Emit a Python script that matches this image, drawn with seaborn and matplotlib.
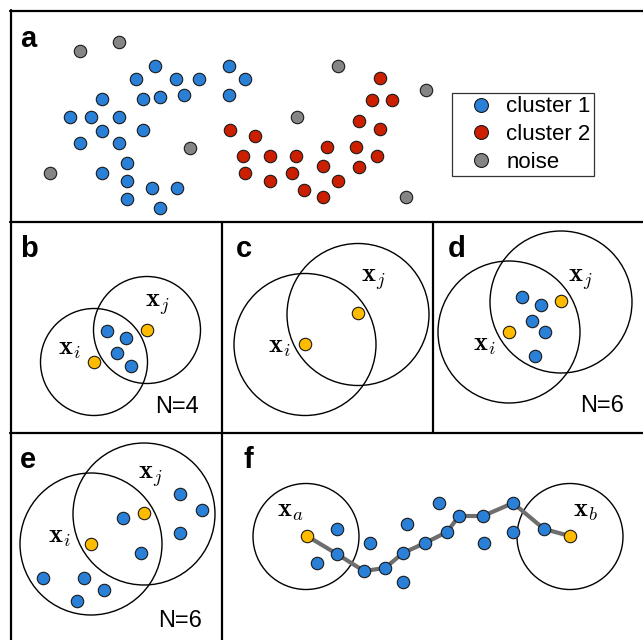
import numpy as np
import matplotlib
matplotlib.use("Agg")
import matplotlib.pyplot as plt
import seaborn as sns
import pandas as pd
from matplotlib.patches import Circle
from matplotlib.lines import Line2D

sns.set_style("white")
plt.rcParams['font.family'] = ['Liberation Sans', 'DejaVu Sans']
plt.rcParams['mathtext.fontset'] = 'cm'
plt.rcParams['text.color'] = 'black'

BLUE = '#2a7fd6'
RED = '#cc1f00'
GRAY = '#858585'
YELLOW = '#ffbb00'
EDGE = '#1a1a1a'

# panel a: points (image pixel coordinates)
a_blue_x = [155, 136, 176, 199, 229, 245, 229, 102, 143, 160, 184, 70, 91, 119, 102, 143, 80, 119, 127, 102, 127, 152, 177, 127, 160]
a_blue_y = [66, 79, 79, 79, 66, 79, 95, 99, 99, 97, 95, 117, 117, 117, 131, 130, 143, 143, 163, 173, 181, 188, 188, 199, 208]
a_red_x = [230, 255, 243, 270, 296, 245, 270, 292, 304, 380, 372, 392, 359, 380, 327, 356, 377, 323, 359, 338, 323]
a_red_y = [130, 136, 156, 156, 156, 173, 181, 173, 190, 78, 100, 100, 121, 129, 147, 147, 156, 166, 167, 181, 197]
a_noise_x = [80, 119, 50, 190, 297, 338, 426, 406]
a_noise_y = [51, 42, 173, 148, 117, 66, 90, 197]
legend_labels = ['cluster 1', 'cluster 2', 'noise']

# panel b
b_circ_x = [94, 147]
b_circ_y = [362, 330]
b_circ_r = [53.5, 53.5]
b_blue_x = [107, 126, 117, 131]
b_blue_y = [331, 338, 353, 366]
b_n = 'N=4'

# panel c
c_circ_x = [305, 358]
c_circ_y = [344.5, 314.5]
c_circ_r = [71, 71]
c_core_x = [305, 357.5]
c_core_y = [344, 312.5]

# panel d
d_circ_x = [509, 561]
d_circ_y = [332, 302]
d_circ_r = [71, 71]
d_core_x = [509, 561]
d_core_y = [332, 300.5]
d_blue_x = [522, 541, 532, 545, 535]
d_blue_y = [297, 305, 321, 332, 356]
d_n = 'N=6'

# panel e
e_circ_x = [91, 144]
e_circ_y = [544, 514]
e_circ_r = [71, 71]
e_core_x = [91, 144]
e_core_y = [544, 513]
e_blue_x = [123, 180, 202, 180, 141, 43, 84, 104, 77]
e_blue_y = [518, 494, 510, 533, 553, 578, 578, 590, 601]
e_n = 'N=6'

# panel f
f_circ_x = [306, 570]
f_circ_y = [536.5, 536.5]
f_circ_r = [53, 53]
f_core_x = [307, 570]
f_core_y = [536, 536]
f_blue_x = [317, 337, 337, 370, 364, 385, 403, 407, 403, 425, 447, 439, 459, 483, 484, 513, 513, 544]
f_blue_y = [563, 529, 554, 543, 571, 568, 582, 524, 553, 543, 532, 503, 516, 516, 543, 503, 532, 529]
path_x = [307, 337, 364, 385, 403, 425, 447, 459, 483, 513, 544, 570]
path_y = [536, 554, 571, 568, 553, 543, 532, 516, 516, 503, 529, 536]

W, H = 643, 640
fig = plt.figure(figsize=(W / 100, H / 100), dpi=100)
ax = fig.add_axes([0, 0, 1, 1])
ax.set_xlim(0, W)
ax.set_ylim(H, 0)
ax.axis('off')

MS = 80
LW = 0.8

def dots(x, y, color):
    sns.scatterplot(x=x, y=y, ax=ax, color=color, s=MS, edgecolor=EDGE,
                    linewidth=LW, zorder=4, legend=False)

def circles(cx, cy, r):
    for x, y, rr in zip(cx, cy, r):
        ax.add_patch(Circle((x, y), rr, fill=False, ec='black', lw=1.0, zorder=2))

# frame
lw_frame = 1.6
ax.plot([10, W], [10.5, 10.5], color='black', lw=lw_frame)
ax.plot([10.5, 10.5], [10, H], color='black', lw=lw_frame)
ax.plot([10, W], [222, 222], color='black', lw=lw_frame)
ax.plot([10, W], [433, 433], color='black', lw=lw_frame)
ax.plot([222, 222], [222, H], color='black', lw=lw_frame)
ax.plot([433, 433], [222, 433], color='black', lw=lw_frame)

# panel a
dots(a_blue_x, a_blue_y, BLUE)
dots(a_red_x, a_red_y, RED)
dots(a_noise_x, a_noise_y, GRAY)
handles = [Line2D([], [], ls='none', marker='o', markersize=10, markerfacecolor=c,
                  markeredgecolor=EDGE, markeredgewidth=LW) for c in (BLUE, RED, GRAY)]
leg = ax.legend(handles, legend_labels, loc='upper left', bbox_to_anchor=(452, 93),
                bbox_transform=ax.transData, fancybox=False, framealpha=1,
                edgecolor='#333333', fontsize=16, handletextpad=0.0,
                labelspacing=0.3, borderpad=0.15, handlelength=2.3,
                borderaxespad=0)
leg.get_frame().set_linewidth(0.9)
for t in leg.get_texts():
    t.set_color('black')

# panel b
circles(b_circ_x, b_circ_y, b_circ_r)
dots(b_blue_x, b_blue_y, BLUE)
dots(b_circ_x, b_circ_y, YELLOW)

# panel c
circles(c_circ_x, c_circ_y, c_circ_r)
dots(c_core_x, c_core_y, YELLOW)

# panel d
circles(d_circ_x, d_circ_y, d_circ_r)
dots(d_blue_x, d_blue_y, BLUE)
dots(d_core_x, d_core_y, YELLOW)

# panel e
circles(e_circ_x, e_circ_y, e_circ_r)
dots(e_blue_x, e_blue_y, BLUE)
dots(e_core_x, e_core_y, YELLOW)

# panel f
circles(f_circ_x, f_circ_y, f_circ_r)
sns.lineplot(x=path_x, y=path_y, ax=ax, sort=False, estimator=None,
             color='#6e6e6e', lw=3, zorder=3)
dots(f_blue_x, f_blue_y, BLUE)
dots(f_core_x, f_core_y, YELLOW)

# panel letters
for lab, x, y in [('a', 20, 47), ('b', 20, 257), ('c', 236, 257),
                  ('d', 448, 257), ('e', 20, 468), ('f', 243, 468)]:
    ax.text(x, y, lab, fontsize=21, fontweight='bold', ha='left', va='baseline',
            color='black')

# N labels
for lab, x, y in [(b_n, 155, 413), (d_n, 580, 412), (e_n, 158, 627)]:
    ax.text(x, y, lab, fontsize=17, ha='left', va='baseline', color='black')

# math labels
for lab, x, y in [(r'$\mathbf{x}_i$', 58, 355), (r'$\mathbf{x}_j$', 145, 307),
                  (r'$\mathbf{x}_i$', 268, 353), (r'$\mathbf{x}_j$', 361, 282),
                  (r'$\mathbf{x}_i$', 473, 351), (r'$\mathbf{x}_j$', 568, 282),
                  (r'$\mathbf{x}_i$', 48, 543), (r'$\mathbf{x}_j$', 138, 479),
                  (r'$\mathbf{x}_a$', 277, 517), (r'$\mathbf{x}_b$', 573, 517)]:
    ax.text(x, y, lab, fontsize=19, ha='left', va='baseline', color='black')

fig.savefig('out.png', dpi=100)
